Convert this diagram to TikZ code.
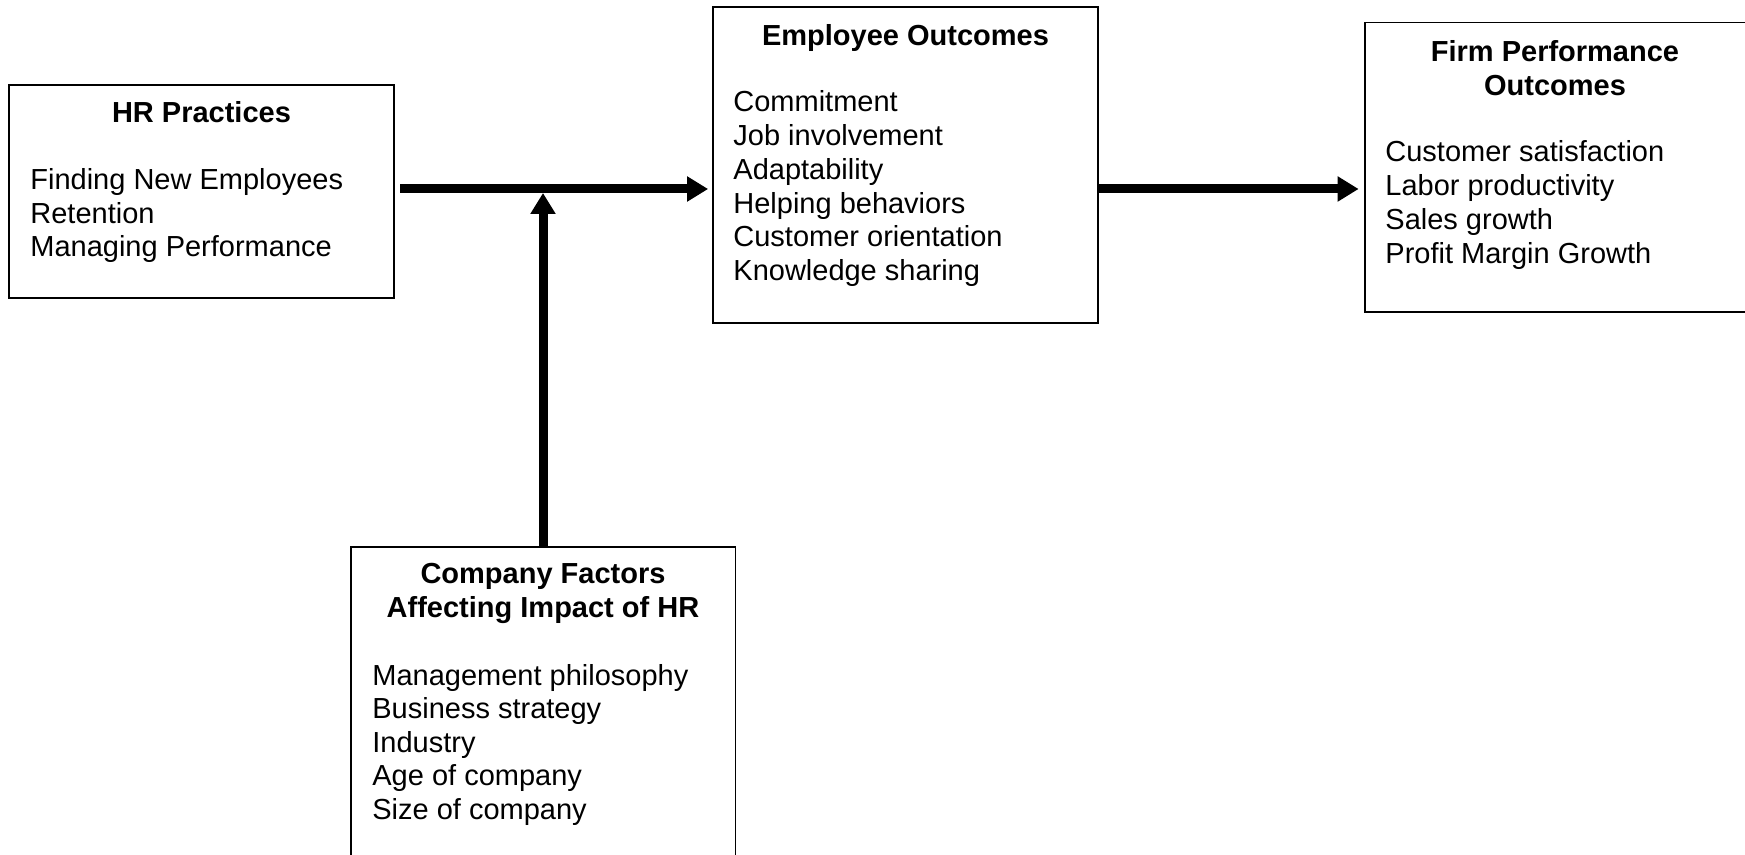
\documentclass[tikz,border=0pt]{standalone}
\usepackage{fontspec}
\setmainfont{Liberation Sans}
\usetikzlibrary{arrows.meta}
\begin{document}
\begin{tikzpicture}[x=0.5pt,y=-0.5pt,
  frame/.style={draw=black, line width=0.9pt, inner sep=0pt},
  open/.style={inner sep=0pt},
  txt/.style={anchor=base west, inner sep=0pt, font=\fontsize{14.5}{16.75}\selectfont},
  ttl/.style={anchor=base, inner sep=0pt, font=\bfseries\fontsize{14.5}{16.75}\selectfont},
  arr/.style={line width=4.5pt, -{Triangle[length=10.5pt,width=12pt]}},
  side/.style={line width=0.9pt}]
\useasboundingbox (0,0) rectangle (1745,855);

% boxes
\node[frame, minimum width=192.5pt, minimum height=106.5pt] (hr) at (201.5,191.5) {};
\node[frame, minimum width=192.5pt, minimum height=158pt] (eo) at (905.5,165) {};
\node[open, minimum width=190pt, minimum height=144.5pt] (fp) at (1555,167.5) {};
\draw[side] (fp.north east) -- (fp.north west) -- (fp.south west) -- (fp.south east);
\node[open, minimum width=192pt, minimum height=154pt] (cf) at (543,701) {};
\draw[side] (cf.south west) -- (cf.north west) -- (cf.north east) -- (cf.south east);

% HR practices
\node[ttl] (hrt) at (201.5,123) {HR Practices};
\node[txt] (hr1) at (30,190) {Finding New Employees};
\node[txt] (hr2) at (30,223.5) {Retention};
\node[txt] (hr3) at (30,257) {Managing Performance};

% Employee outcomes
\node[ttl] (eot) at (905.5,46) {Employee Outcomes};
\node[txt] (eo1) at (733,112) {Commitment};
\node[txt] (eo2) at (733,146) {Job involvement};
\node[txt] (eo3) at (733,180) {Adaptability};
\node[txt] (eo4) at (733,213.5) {Helping behaviors};
\node[txt] (eo5) at (733,247) {Customer orientation};
\node[txt] (eo6) at (733,281) {Knowledge sharing};

% Firm performance outcomes
\node[ttl] (fpt1) at (1555,62) {Firm Performance};
\node[ttl] (fpt2) at (1555,96) {Outcomes};
\node[txt] (fp1) at (1385,162) {Customer satisfaction};
\node[txt] (fp2) at (1385,196) {Labor productivity};
\node[txt] (fp3) at (1385,230) {Sales growth};
\node[txt] (fp4) at (1385,264) {Profit Margin Growth};

% Company factors
\node[ttl] (cft1) at (543,583) {Company Factors};
\node[ttl] (cft2) at (543,617) {Affecting Impact of HR};
\node[txt] (cf1) at (372,685) {Management philosophy};
\node[txt] (cf2) at (372,718.5) {Business strategy};
\node[txt] (cf3) at (372,752) {Industry};
\node[txt] (cf4) at (372,785.5) {Age of company};
\node[txt] (cf5) at (372,819) {Size of company};

% connectors
\coordinate (j) at (543,189);
\draw[arr, shorten <=2.75pt, shorten >=2pt] (hr.east |- j) -- (eo.west |- j);
\draw[arr, shorten >=2pt] (cf.north) -- (j);
\draw[arr, shorten <=-0.5pt, shorten >=3pt] (eo.east |- j) -- (fp.west |- j);
\end{tikzpicture}
\end{document}
